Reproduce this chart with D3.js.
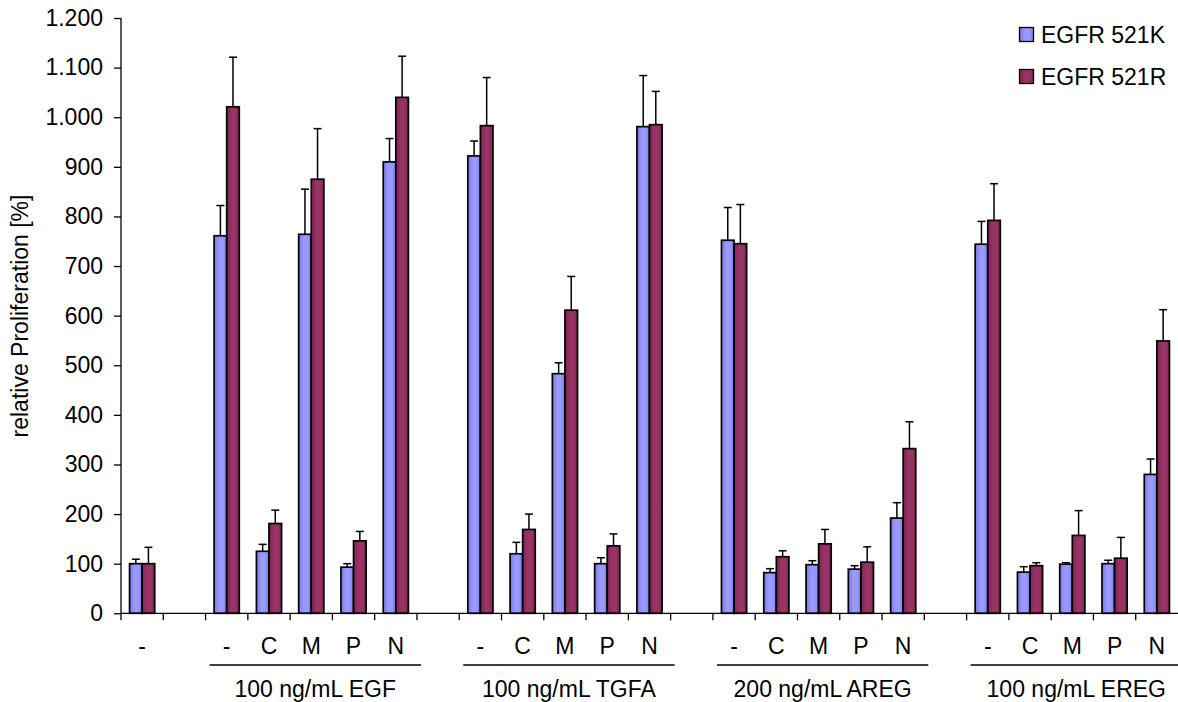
<!DOCTYPE html>
<html>
<head>
<meta charset="utf-8">
<script src="https://cdn.jsdelivr.net/npm/d3@7"></script>
<style>
  body { margin: 0; background: #fff; }
  svg { display: block; }
  text { font-family: Arial, "Liberation Sans", sans-serif; fill: #000; }
</style>
</head>
<body>
<svg id="chart" width="1178" height="702"></svg>
<script>
// data
var series = ['EGFR 521K', 'EGFR 521R'];
var treatments = ['-', 'C', 'M', 'P', 'N'];
var groups = ['100 ng/mL EGF', '100 ng/mL TGFA', '200 ng/mL AREG', '100 ng/mL EREG'];

// order: untreated control, then 4 ligands x 5 treatments
var k521 = [100, 761, 125, 764, 93, 910, 922, 120, 483, 100, 981, 752, 82, 98, 89, 192, 744, 83, 99, 100, 280];
var k521Err = [9, 61, 14, 91, 7, 47, 30, 23, 22, 12, 103, 66, 8, 8, 7, 31, 46, 11, 3, 7, 31];
var r521 = [100, 1021, 181, 875, 146, 1040, 983, 169, 611, 136, 985, 745, 114, 140, 103, 332, 792, 96, 157, 111, 549];
var r521Err = [33, 100, 27, 102, 19, 83, 97, 31, 68, 24, 67, 79, 12, 29, 31, 54, 74, 6, 50, 42, 63];

var yTicks = d3.range(0, 1201, 100);
var colors = ['#9999ff', '#993366'];
var edgeColors = ['#7777dd', '#7a2450'];

var svg = d3.select('#chart');
var fontSize = 23;

// slot positions: 0 = control, then 1 gap slot before each ligand group
var nSlots = 25;
var slotOf = function(i) {
  if (i === 0) return 0;
  var g = Math.floor((i - 1) / 5), t = (i - 1) % 5;
  return 2 + g * 6 + t;
};
var labelOf = function(i) {
  return i === 0 ? '-' : treatments[(i - 1) % 5];
};

var x = d3.scaleBand().domain(d3.range(nSlots)).range([121, 1178]).padding(0);
var xs = d3.scaleBand().domain(series).range([0, x.bandwidth()]).paddingInner(0).paddingOuter(0.68);
var y = d3.scaleLinear().domain([0, 1200]).range([613.3, 18]);

var bars = [];
k521.forEach(function(v, i) {
  bars.push({s: 0, slot: slotOf(i), v: v, e: k521Err[i]});
  bars.push({s: 1, slot: slotOf(i), v: r521[i], e: r521Err[i]});
});

// gradients like the old excel bars
var defs = svg.append('defs');
colors.forEach(function(c, k) {
  var g = defs.append('linearGradient').attr('id', 'grad' + k)
    .attr('x1', 0).attr('x2', 1).attr('y1', 0).attr('y2', 0);
  g.append('stop').attr('offset', '0%').attr('stop-color', edgeColors[k]);
  g.append('stop').attr('offset', '40%').attr('stop-color', c);
  g.append('stop').attr('offset', '70%').attr('stop-color', c);
  g.append('stop').attr('offset', '100%').attr('stop-color', edgeColors[k]);
});

// error bars (upper only)
var err = svg.append('g').attr('class', 'errors');
bars.forEach(function(d) {
  var cx = x(d.slot) + xs(series[d.s]) + xs.bandwidth() / 2;
  err.append('line')
    .attr('x1', cx).attr('x2', cx)
    .attr('y1', y(d.v)).attr('y2', y(d.v + d.e))
    .attr('stroke', '#000').attr('stroke-width', 1.5);
  err.append('line')
    .attr('x1', cx - 4).attr('x2', cx + 4)
    .attr('y1', y(d.v + d.e)).attr('y2', y(d.v + d.e))
    .attr('stroke', '#000').attr('stroke-width', 1.5);
});

// bars
svg.append('g').selectAll('rect')
  .data(bars)
  .enter()
  .append('rect')
  .attr('x', function(d) { return x(d.slot) + xs(series[d.s]); })
  .attr('width', xs.bandwidth())
  .attr('y', function(d) { return y(d.v); })
  .attr('height', function(d) { return y(0) - y(d.v); })
  .attr('fill', function(d) { return 'url(#grad' + d.s + ')'; })
  .attr('stroke', '#000')
  .attr('stroke-width', 1.7);

// y axis
var nf = d3.formatLocale({decimal: ',', thousands: '.', grouping: [3], currency: ['', '']}).format(',d');
var yAxis = svg.append('g')
  .attr('transform', 'translate(121,0)')
  .call(d3.axisLeft(y).tickValues(yTicks).tickFormat(nf).tickSize(7).tickPadding(11));
yAxis.select('.domain').attr('d', 'M0,' + y(1200) + 'V' + y(0)).attr('stroke', '#000').attr('stroke-width', 1.3);
yAxis.selectAll('.tick line').attr('stroke', '#000').attr('stroke-width', 1.3);
yAxis.selectAll('text').style('font-size', fontSize + 'px').attr('font-family', null);

// x axis line and slot ticks
var xAxis = svg.append('g');
xAxis.append('line')
  .attr('x1', 121).attr('x2', 1178).attr('y1', y(0)).attr('y2', y(0))
  .attr('stroke', '#000').attr('stroke-width', 1.3);
xAxis.selectAll('.slot-tick')
  .data(d3.range(nSlots))
  .enter()
  .append('line')
  .attr('x1', function(d) { return x(d); })
  .attr('x2', function(d) { return x(d); })
  .attr('y1', y(0)).attr('y2', y(0) + 7)
  .attr('stroke', '#000').attr('stroke-width', 1.3);

// treatment labels
xAxis.selectAll('.tlabel')
  .data(k521)
  .enter()
  .append('text')
  .attr('x', function(d, i) { return x(slotOf(i)) + x.bandwidth() / 2; })
  .attr('y', 654)
  .attr('text-anchor', 'middle')
  .style('font-size', fontSize + 'px')
  .text(function(d, i) { return labelOf(i); });

// ligand group lines + labels
groups.forEach(function(g, gi) {
  var x0 = x(2 + gi * 6) + 4;
  var x1 = Math.min(x(2 + gi * 6 + 4) + x.bandwidth() + 4, 1178);
  xAxis.append('line')
    .attr('x1', x0).attr('x2', x1).attr('y1', 665).attr('y2', 665)
    .attr('stroke', '#000').attr('stroke-width', 1.3);
  xAxis.append('text')
    .attr('x', (x(2 + gi * 6) + x(2 + gi * 6 + 4) + x.bandwidth()) / 2 + 4)
    .attr('y', 697)
    .attr('text-anchor', 'middle')
    .style('font-size', fontSize + 'px')
    .text(g);
});

// y title
svg.append('text')
  .attr('transform', 'translate(28,316) rotate(-90)')
  .attr('text-anchor', 'middle')
  .style('font-size', fontSize + 'px')
  .text('relative Proliferation [%]');

// legend
var legend = svg.append('g');
series.forEach(function(s, k) {
  legend.append('rect')
    .attr('x', 1019.5).attr('y', 27.5 + k * 42)
    .attr('width', 14).attr('height', 14)
    .attr('fill', 'url(#grad' + k + ')')
    .attr('stroke', '#000').attr('stroke-width', 1.3);
  legend.append('text')
    .attr('x', 1041).attr('y', 42.5 + k * 42)
    .style('font-size', fontSize + 'px')
    .text(s);
});
</script>
</body>
</html>
